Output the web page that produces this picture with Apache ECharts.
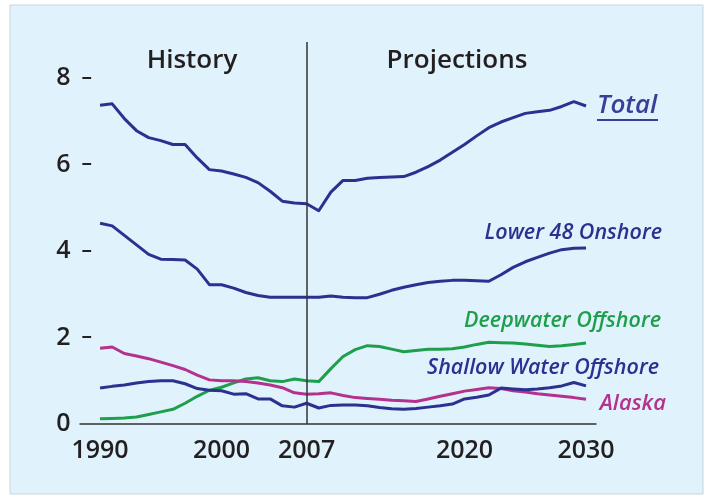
<!DOCTYPE html>
<html>
<head>
<meta charset="utf-8">
<script src="https://cdn.jsdelivr.net/npm/echarts@6/dist/echarts.min.js"></script>
<style>
html,body{margin:0;padding:0;background:#fff;}
#c{width:710px;height:498px;}
</style>
</head>
<body>
<div id="c"></div>
<script>
const years = [1990,1991,1992,1993,1994,1995,1996,1997,1998,1999,2000,2001,2002,2003,2004,2005,2006,2007,2008,2009,2010,2011,2012,2013,2014,2015,2016,2017,2018,2019,2020,2021,2022,2023,2024,2025,2026,2027,2028,2029,2030];
const total = [7.37,7.40,7.06,6.78,6.62,6.55,6.46,6.46,6.15,5.88,5.85,5.78,5.70,5.58,5.38,5.15,5.11,5.09,4.93,5.36,5.63,5.63,5.68,5.70,5.71,5.72,5.82,5.95,6.10,6.28,6.46,6.66,6.85,6.98,7.08,7.18,7.22,7.25,7.34,7.45,7.35];
const lower48 = [4.64,4.58,4.36,4.14,3.92,3.81,3.80,3.79,3.58,3.22,3.22,3.14,3.04,2.97,2.93,2.93,2.93,2.93,2.93,2.96,2.93,2.92,2.92,3.00,3.09,3.16,3.22,3.27,3.30,3.32,3.32,3.31,3.30,3.45,3.62,3.75,3.85,3.95,4.03,4.06,4.07];
const deepwater = [0.12,0.13,0.14,0.16,0.22,0.28,0.34,0.48,0.64,0.78,0.85,0.95,1.04,1.07,1.00,0.98,1.04,1.00,0.98,1.28,1.56,1.72,1.81,1.79,1.73,1.67,1.70,1.73,1.73,1.74,1.78,1.84,1.89,1.88,1.87,1.85,1.82,1.79,1.81,1.84,1.87];
const shallow = [0.83,0.87,0.90,0.95,0.98,1.00,1.00,0.93,0.82,0.78,0.77,0.69,0.70,0.58,0.58,0.42,0.39,0.48,0.37,0.43,0.44,0.44,0.42,0.38,0.35,0.34,0.36,0.39,0.42,0.46,0.58,0.62,0.67,0.83,0.81,0.79,0.81,0.84,0.88,0.96,0.88];
const alaska = [1.75,1.78,1.63,1.57,1.51,1.43,1.35,1.26,1.13,1.02,1.00,1.00,0.98,0.95,0.90,0.84,0.72,0.69,0.70,0.72,0.66,0.61,0.59,0.57,0.55,0.54,0.52,0.58,0.64,0.70,0.76,0.80,0.84,0.82,0.77,0.74,0.70,0.67,0.64,0.61,0.57];
const xTicks = [1990,2000,2007,2020,2030];
const yTicks = [0,2,4,6,8];
const splitYear = 2007;

const NAVY = '#2b3190', GREEN = '#1e9f4c', MAGENTA = '#b4318d', INK = '#231f20';
const FONT = '"Open Sans", "Noto Sans", sans-serif';

function pairs(v){ return years.map((y,i)=>[y,v[i]]); }
function line(name, v, color){
  return {name, type:'line', data:pairs(v), symbol:'none', smooth:false,
    lineStyle:{color, width:3, join:'round'}, itemStyle:{color}, z:3, silent:true};
}

const chart = echarts.init(document.getElementById('c'));
const labelText = (txt, x, y, color, align, size) => ({
  type:'text', x, y, z:10,
  style:{text:txt, fill:color, font:'italic 600 '+size+'px '+FONT, textAlign:align, textVerticalAlign:'middle'}
});
chart.setOption({
  animation:false,
  backgroundColor:'#ffffff',
  grid:{left:80, top:42, width:516, height:382, outerBoundsMode:'none', containLabel:false},
  xAxis:{type:'value', min:1988.35, max:2030.82,
    axisLine:{show:true, lineStyle:{color:'#333', width:1.5}},
    axisTick:{show:false},
    splitLine:{show:false},
    axisLabel:{customValues:xTicks, margin:14, color:INK, fontFamily:FONT, fontSize:25, fontWeight:600, formatter:v=>String(v)}
  },
  yAxis:{type:'value', min:0, max:8.83,
    axisLine:{show:false}, axisTick:{show:false}, splitLine:{show:false},
    axisLabel:{customValues:yTicks, margin:-12, color:INK, fontFamily:FONT, fontSize:25, fontWeight:600,
      formatter:v=> v===0 ? '{n|0}{h|  –}' : '{n|'+v+'}{d|  –}',
      rich:{n:{fontFamily:FONT,fontSize:25,fontWeight:600,color:INK}, d:{fontFamily:FONT,fontSize:21,fontWeight:600,color:INK}, h:{fontFamily:FONT,fontSize:21,color:'rgba(0,0,0,0)'}}
    }
  },
  graphic:[
    {type:'rect', shape:{x:10, y:5, width:693, height:489}, style:{fill:'#e0f2fc', stroke:'#c9d4da', lineWidth:1}, z:-10, silent:true},
    {type:'text', x:192, y:61, style:{text:'History', fill:INK, font:'600 26px '+FONT, textAlign:'center', textVerticalAlign:'middle'}},
    {type:'text', x:457, y:61, style:{text:'Projections', fill:INK, font:'600 26px '+FONT, textAlign:'center', textVerticalAlign:'middle'}},
    labelText('Total', 597, 106, '#3a3e98', 'left', 26),
    {type:'line', shape:{x1:597, y1:120, x2:658, y2:120}, style:{stroke:'#3a3e98', lineWidth:2}},
    labelText('Lower 48 Onshore', 662, 233, NAVY, 'right', 21.5),
    labelText('Deepwater Offshore', 661, 321, GREEN, 'right', 21.5),
    labelText('Shallow Water Offshore', 659, 368, NAVY, 'right', 21.5),
    labelText('Alaska', 666, 404, MAGENTA, 'right', 22)
  ],
  series:[
    Object.assign(line('Total', total, NAVY), {
      markLine:{silent:true, symbol:'none', label:{show:false}, lineStyle:{color:'#333', width:1.5, type:'solid'},
        data:[{xAxis:splitYear}]}
    }),
    line('Lower 48 Onshore', lower48, NAVY),
    line('Deepwater Offshore', deepwater, GREEN),
    line('Alaska', alaska, MAGENTA),
    line('Shallow Water Offshore', shallow, NAVY)
  ]
});
</script>
</body>
</html>
